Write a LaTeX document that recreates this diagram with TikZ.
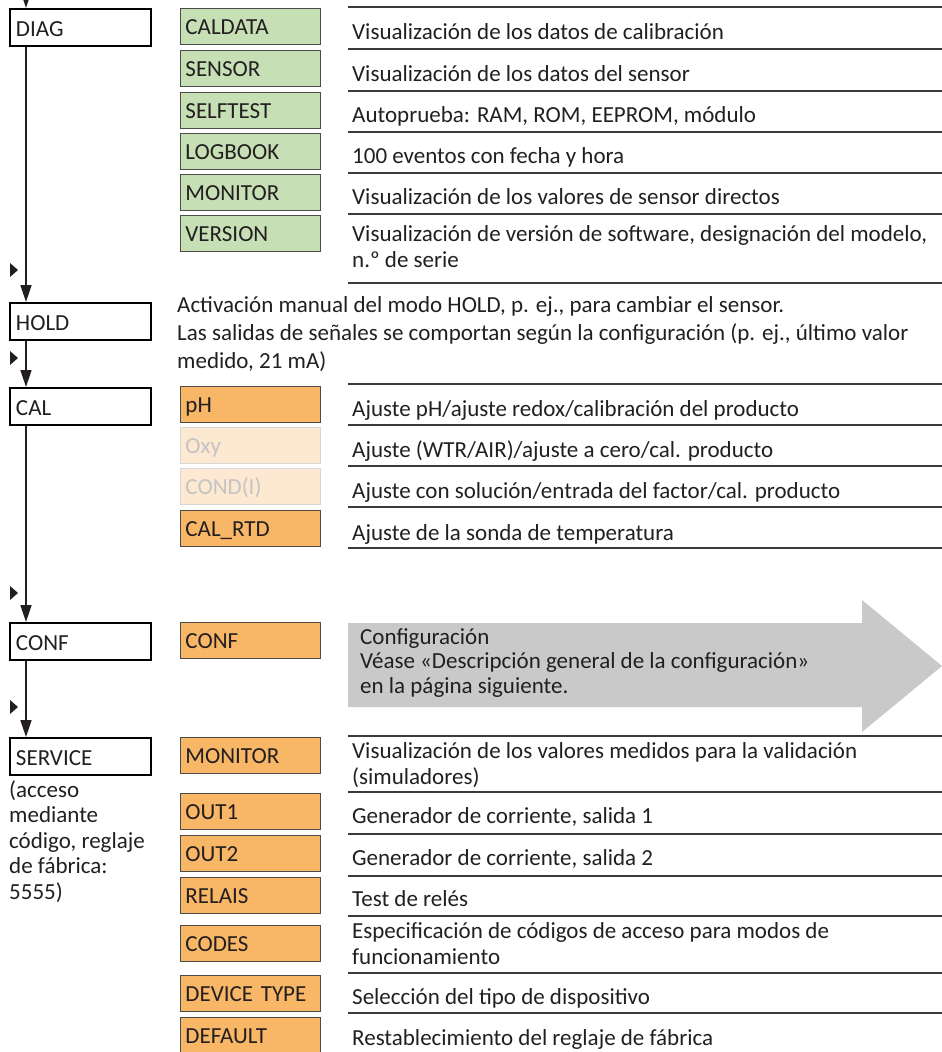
\documentclass[tikz,border=0pt]{standalone}
\usepackage{fontspec}
\setmainfont{Carlito}
\usetikzlibrary{arrows.meta}
\definecolor{txt}{HTML}{231F20}
\definecolor{cgreen}{HTML}{C6DFB4}
\definecolor{corange}{HTML}{F8B667}
\definecolor{clight}{HTML}{FDE8D2}
\definecolor{cgreytext}{HTML}{C4C4C4}
\definecolor{carrow}{HTML}{C9C9C9}
\definecolor{cline}{HTML}{3A3A3A}
\newcommand\mystrut{\rule{0pt}{19pt}}
\begin{document}
\begin{tikzpicture}[x=1pt,y=-1pt,
  font=\fontsize{23}{26}\selectfont, text=txt,
  lbox/.style={draw=black, line width=2pt, fill=white, anchor=north west,
    text width=129pt, inner xsep=6pt, inner ysep=0pt, minimum height=37pt,
    text height=17pt, text depth=0pt, align=left},
  gbox/.style={draw=black!70, line width=0.9pt, fill=cgreen, anchor=north west,
    text width=130pt, inner xsep=5pt, inner ysep=0pt, minimum height=36pt,
    text height=17pt, text depth=0pt, align=left},
  obox/.style={gbox, fill=corange},
  dbox/.style={gbox, fill=clight, draw=black!16, text=cgreytext},
  desc/.style={anchor=north west, inner sep=0pt, align=left, yshift=19pt,
    execute at begin node=\mystrut},
  sep/.style={draw=cline, line width=1.3pt},
  flow/.style={draw=txt, line width=1.5pt, -{Triangle[length=17pt,width=11pt]}},
  marker/.style={fill=txt, draw=none},
  bigarrow/.style={fill=carrow, draw=none}
]
\useasboundingbox (0,0) rectangle (942,1052);

% ---------- separator lines ----------
\foreach \y in {7,49,91,132,173,214,283, 384,425,466,507,548, 736,792,834,876,916,973,1013}
  \draw[sep] (348,\y) -- (942,\y);

% ---------- left column ----------
\node[lbox] (diag) at (9,8) {DIAG};
\node[lbox] (hold) at (9,302) {HOLD};
\node[lbox] (cal) at (9,387) {CAL};
\node[lbox] (conf) at (9,622) {CONF};
\node[lbox] (service) at (9,737) {SERVICE};
\coordinate (entry) at (26,-20);

\draw[flow] (entry) -- ([xshift=17pt]diag.north west);
\draw[flow] ([xshift=17pt]diag.south west) -- ([xshift=17pt]hold.north west);
\draw[flow] ([xshift=17pt]hold.south west) -- ([xshift=17pt]cal.north west);
\draw[flow] ([xshift=17pt]cal.south west) -- ([xshift=17pt]conf.north west);
\draw[flow] ([xshift=17pt]conf.south west) -- ([xshift=17pt]service.north west);

\foreach \y in {270,358,593,707}
  \fill[marker] (10,\y-7) -- (18,\y) -- (10,\y+7) -- cycle;

\node[desc, font=\fontsize{23}{25.5}\selectfont] (servnote) at (9,799) {(acceso\\mediante\\código, reglaje\\de fábrica:\\5555)};

% ---------- DIAG ----------
\node[gbox] (caldata) at (180,8) {CALDATA};
\node[gbox] (sensor) at (180,50) {SENSOR};
\node[gbox] (selftest) at (180,92) {SELFTEST};
\node[gbox] (logbook) at (180,133) {LOGBOOK};
\node[gbox] (monitor1) at (180,174) {MONITOR};
\node[gbox] (version) at (180,215) {VERSION};

\node[desc] (dcaldata) at (352,39) {Visualización de los datos de calibración};
\node[desc] (dsensor) at (352,81) {Visualización de los datos del sensor};
\node[desc] (dselftest) at (352,122) {Autoprueba: RAM, ROM, EEPROM, módulo};
\node[desc] (dlogbook) at (352,163) {100 eventos con fecha y hora};
\node[desc] (dmonitor1) at (352,204) {Visualización de los valores de sensor directos};
\node[desc] (dversion) at (352,244) {Visualización de versión de software, designación del modelo,\\n.º de serie};

% ---------- HOLD ----------
\node[desc, font=\fontsize{23}{28}\selectfont] (dhold) at (177,315) {Activación manual del modo HOLD, p. ej., para cambiar el sensor.\\Las salidas de señales se comportan según la configuración (p. ej., último valor\\medido, 21 mA)};

% ---------- CAL ----------
\node[obox] (ph) at (180,386) {pH};
\node[dbox] (oxy) at (180,427) {Oxy};
\node[dbox] (cond) at (180,468) {COND(I)};
\node[obox] (calrtd) at (180,510) {CAL\_RTD};

\node[desc] (dph) at (352,416) {Ajuste pH/ajuste redox/calibración del producto};
\node[desc] (doxy) at (352,457) {Ajuste (WTR/AIR)/ajuste a cero/cal. producto};
\node[desc] (dcond) at (352,498) {Ajuste con solución/entrada del factor/cal. producto};
\node[desc] (dcalrtd) at (352,540) {Ajuste de la sonda de temperatura};

% ---------- CONF ----------
\node[obox] (confsub) at (180,622) {CONF};
\fill[bigarrow] (348,623) -- (862,623) -- (862,600) -- (942,666) -- (862,732)
  -- (862,707) -- (348,707) -- cycle;
\node[desc, font=\fontsize{23}{24.5}\selectfont] (dconf) at (360,647) {Configuración\\Véase «Descripción general de la configuración»\\en la página siguiente.};

% ---------- SERVICE ----------
\node[obox] (monitor2) at (180,737) {MONITOR};
\node[obox] (out1) at (180,793) {OUT1};
\node[obox] (out2) at (180,835) {OUT2};
\node[obox] (relais) at (180,877) {RELAIS};
\node[obox] (codes) at (180,925) {CODES};
\node[obox] (devtype) at (180,975) {DEVICE TYPE};
\node[obox] (default) at (180,1017) {DEFAULT};

\node[desc] (dmonitor2) at (352,761) {Visualización de los valores medidos para la validación\\(simuladores)};
\node[desc] (dout1) at (352,823) {Generador de corriente, salida 1};
\node[desc] (dout2) at (352,865) {Generador de corriente, salida 2};
\node[desc] (drelais) at (352,906) {Test de relés};
\node[desc] (dcodes) at (352,941) {Especificación de códigos de acceso para modos de\\funcionamiento};
\node[desc] (ddevtype) at (352,1004) {Selección del tipo de dispositivo};
\node[desc] (ddefault) at (352,1045) {Restablecimiento del reglaje de fábrica};
\end{tikzpicture}
\end{document}
